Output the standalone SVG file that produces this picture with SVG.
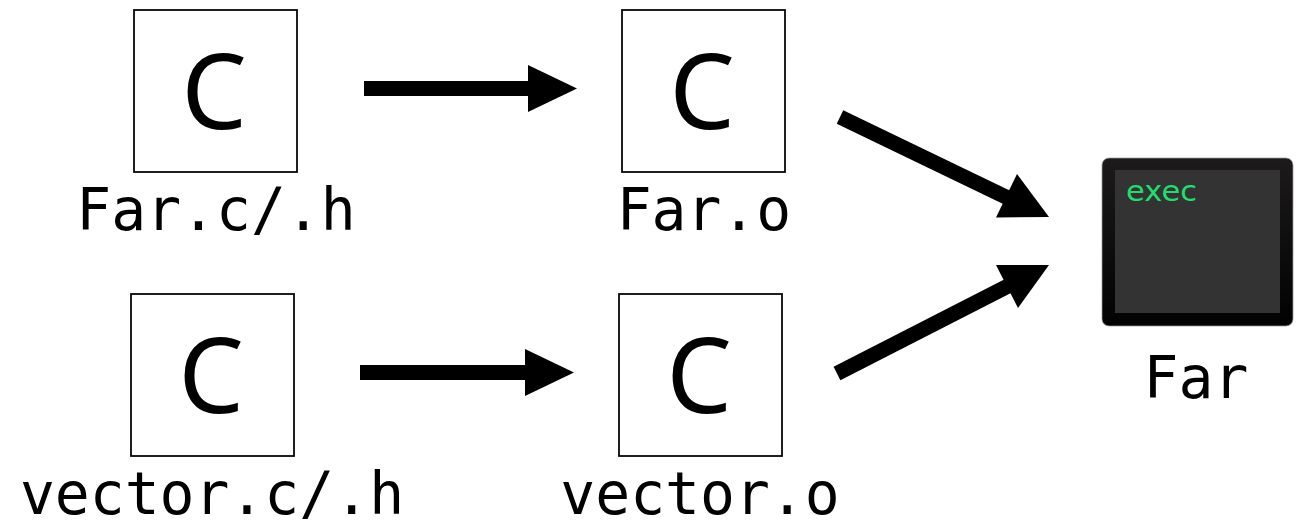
<svg xmlns="http://www.w3.org/2000/svg" width="1304" height="520" viewBox="0 0 1304 520">
<style>
.box{fill:#fff;stroke:#000;stroke-width:1.75}
.c{font-family:"Noto Sans","DejaVu Sans",sans-serif;font-size:104px;text-anchor:middle;fill:#000}
.l{font-family:"DejaVu Sans Mono","Liberation Mono",monospace;font-size:58px;text-anchor:middle;fill:#000}
.a{stroke:#000;stroke-width:15;fill:none}
.h{fill:#000}
</style>
<defs><linearGradient id="bezel" x1="0" y1="0" x2="0" y2="1"><stop offset="0" stop-color="#1c1a1a"/><stop offset="1" stop-color="#020202"/></linearGradient></defs>
<rect width="1304" height="520" fill="#fff"/>
<g id="connectors">
<path class="a" d="M364 88.500H532"/><path class="h" d="M528 65L577 88.500L528 112Z"/>
<path class="a" d="M360 372.500H529"/><path class="h" d="M525 349L574 372.500L525 396Z"/>
<path class="a" d="M840 117L1008 198"/><path class="h" d="M1017 174L1049 217L996 217.500Z"/>
<path class="a" d="M837 373.500L1010 285"/><path class="h" d="M996 265L1049 265L1018 308Z"/>
</g>
<g id="far-c"><rect class="box" x="134" y="10" width="163" height="162"/><text class="c" x="214" y="128.500">C</text><text class="l" x="216" y="230">Far.c/.h</text></g>
<g id="far-o"><rect class="box" x="622" y="10" width="163" height="162"/><text class="c" x="702" y="128.500">C</text><text class="l" x="704" y="230">Far.o</text></g>
<g id="vector-c"><rect class="box" x="131" y="294" width="163" height="162"/><text class="c" x="211" y="412.500">C</text><text class="l" x="212" y="514">vector.c/.h</text></g>
<g id="vector-o"><rect class="box" x="619" y="294" width="163" height="162"/><text class="c" x="699" y="412.500">C</text><text class="l" x="700" y="514">vector.o</text></g>
<g id="far-exec">
<rect x="1102" y="158" width="191" height="168" rx="7" fill="url(#bezel)" stroke="#999" stroke-width="0.75"/>
<rect x="1115" y="170" width="165" height="143" fill="#333"/>
<text x="1126" y="201" font-family="'DejaVu Sans','Liberation Sans',sans-serif" font-size="29" fill="#22dc6e" textLength="71" lengthAdjust="spacingAndGlyphs">exec</text>
<text class="l" x="1196" y="398">Far</text>
</g>
</svg>
